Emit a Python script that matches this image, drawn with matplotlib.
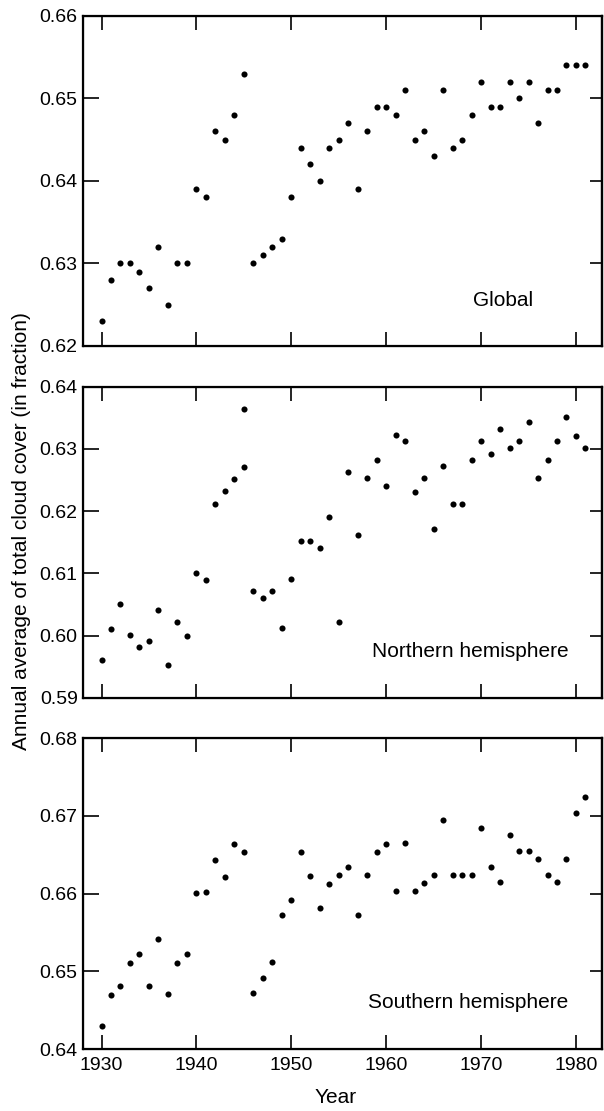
import matplotlib
matplotlib.use("Agg")
import matplotlib.pyplot as plt

plt.rcParams['font.family'] = ['Liberation Sans', 'DejaVu Sans']

years = list(range(1930, 1982))

global_cover = [0.623, 0.628, 0.630, 0.630, 0.629, 0.627, 0.632, 0.625, 0.630, 0.630,
                0.639, 0.638, 0.646, 0.645, 0.648, 0.653, 0.630, 0.631, 0.632, 0.633,
                0.638, 0.644, 0.642, 0.640, 0.644, 0.645, 0.647, 0.639, 0.646, 0.649,
                0.649, 0.648, 0.651, 0.645, 0.646, 0.643, 0.651, 0.644, 0.645, 0.648,
                0.652, 0.649, 0.649, 0.652, 0.650, 0.652, 0.647, 0.651, 0.651, 0.654,
                0.654, 0.654]

# northern series has two points plotted at 1945
nh_years = years[:16] + [1945] + years[16:]
nh_cover = [0.5961, 0.6010, 0.6050, 0.6001, 0.5981, 0.5991, 0.6041, 0.5952, 0.6021, 0.6000,
            0.6101, 0.6090, 0.6212, 0.6232, 0.6251, 0.6271, 0.6364, 0.6072, 0.6061, 0.6072,
            0.6012, 0.6091, 0.6152, 0.6152, 0.6141, 0.6191, 0.6021, 0.6263, 0.6161, 0.6253,
            0.6283, 0.6241, 0.6322, 0.6312, 0.6231, 0.6253, 0.6172, 0.6272, 0.6212, 0.6212,
            0.6283, 0.6313, 0.6292, 0.6332, 0.6302, 0.6313, 0.6343, 0.6253, 0.6283, 0.6312,
            0.6352, 0.6321, 0.6301]

sh_cover = [0.6429, 0.6470, 0.6481, 0.6511, 0.6522, 0.6481, 0.6542, 0.6471, 0.6511, 0.6522,
            0.6601, 0.6602, 0.6643, 0.6622, 0.6664, 0.6653, 0.6472, 0.6491, 0.6512, 0.6572,
            0.6592, 0.6654, 0.6623, 0.6582, 0.6613, 0.6624, 0.6634, 0.6572, 0.6624, 0.6654,
            0.6664, 0.6603, 0.6665, 0.6603, 0.6614, 0.6624, 0.6695, 0.6624, 0.6624, 0.6624,
            0.6684, 0.6634, 0.6615, 0.6675, 0.6655, 0.6655, 0.6645, 0.6624, 0.6615, 0.6645,
            0.6704, 0.6725]

x_ticks = [1930, 1940, 1950, 1960, 1970, 1980]

panels = [
    (years, global_cover, (0.62, 0.66), [0.62, 0.63, 0.64, 0.65, 0.66], "Global", (0.81, 0.139)),
    (nh_years, nh_cover, (0.59, 0.64), [0.59, 0.60, 0.61, 0.62, 0.63, 0.64], "Northern hemisphere", (0.747, 0.150)),
    (years, sh_cover, (0.64, 0.68), [0.64, 0.65, 0.66, 0.67, 0.68], "Southern hemisphere", (0.743, 0.150)),
]
boxes = [(0.1379, 0.6886, 0.8583, 0.2970),
         (0.1379, 0.3720, 0.8583, 0.2799),
         (0.1379, 0.0558, 0.8583, 0.2797)]

fig = plt.figure(figsize=(6.04, 11.11), dpi=100)

for i, (xs, ys, ylim, yticks, label, pos) in enumerate(panels):
    ax = fig.add_axes(boxes[i])
    ax.plot(xs, ys, "o", color="black", markersize=4.4, markeredgewidth=0)
    ax.set_xlim(1928.08, 1982.71)
    ax.set_ylim(*ylim)
    ax.set_xticks(x_ticks)
    ax.set_yticks(yticks)
    ax.set_yticklabels(["%.2f" % v for v in yticks])
    for sp in ax.spines.values():
        sp.set_linewidth(1.6)
    ax.tick_params(axis="x", direction="in", top=True, bottom=True, length=10, width=1.2,
                   labelsize=14, pad=6)
    ax.tick_params(axis="y", direction="in", left=True, right=False, length=11.5,
                   width=1.2, labelsize=14, pad=4)
    # shorter ticks on the right edge
    ax2 = ax.twinx()
    ax2.set_ylim(*ylim)
    ax2.set_yticks(yticks)
    ax2.tick_params(axis="y", direction="in", length=8.5, width=1.2, labelright=False)
    ax2.spines["right"].set_linewidth(1.6)
    if i < 2:
        ax.set_xticklabels([])
    ax.text(pos[0], pos[1], label, transform=ax.transAxes, ha="center", va="center", fontsize=15)

fig.text(0.555, 0.012, "Year", ha="center", va="center", fontsize=15)
fig.text(0.035, 0.522, "Annual average of total cloud cover (in fraction)",
         rotation=90, ha="center", va="center", fontsize=15)

fig.savefig("out.png", dpi=100)
